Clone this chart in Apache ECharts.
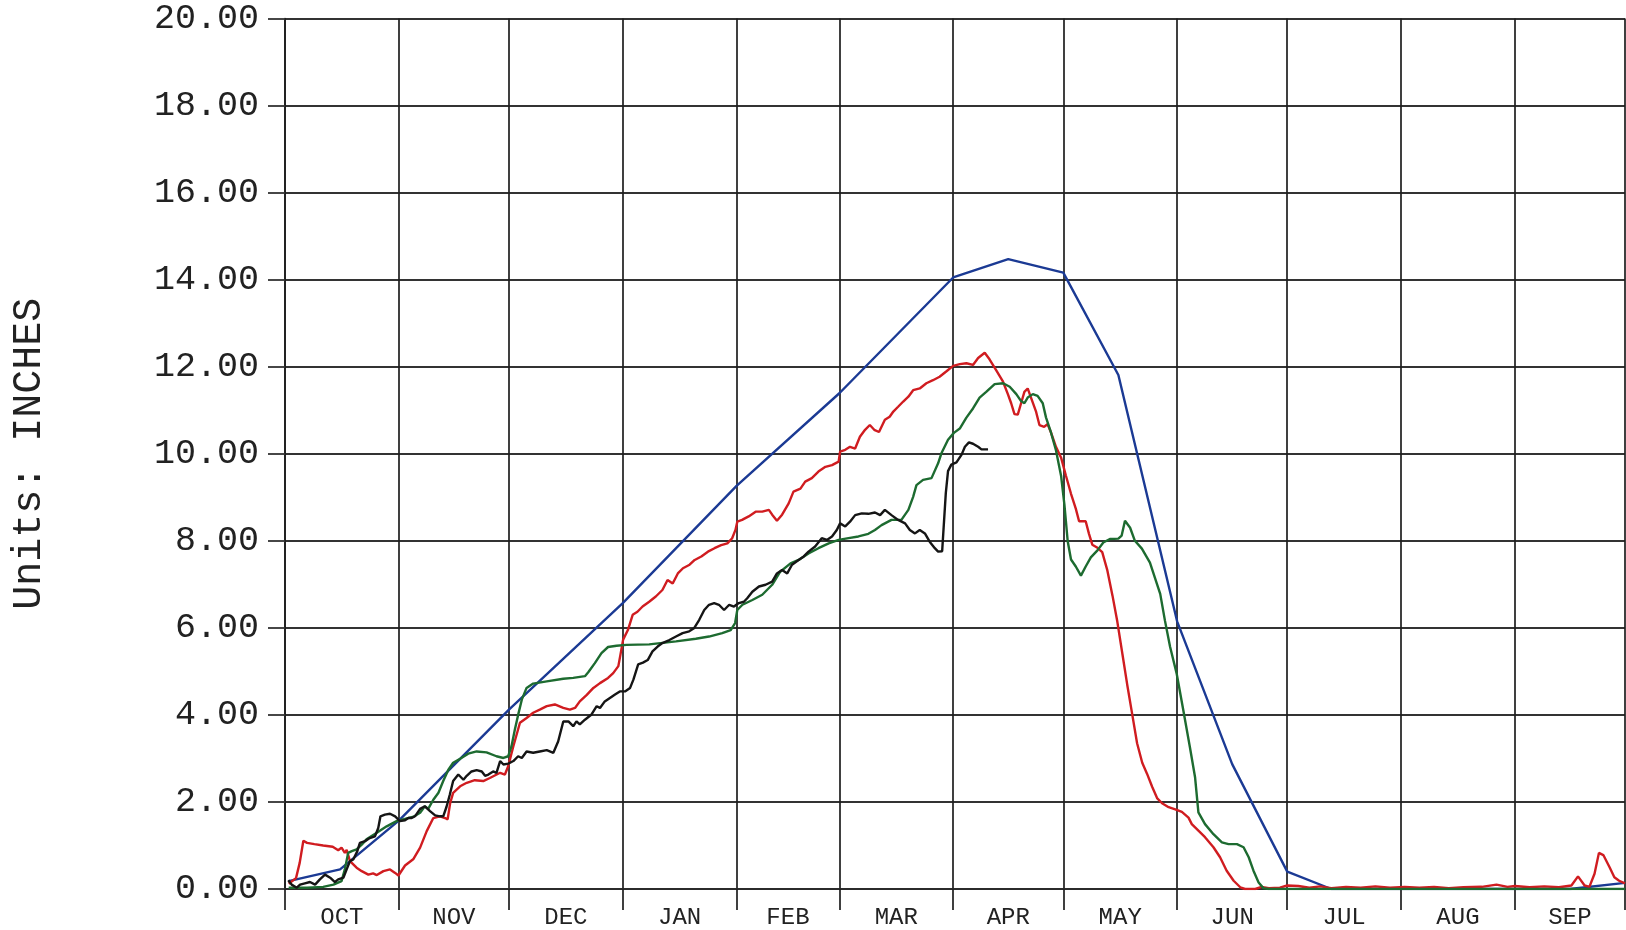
<!DOCTYPE html>
<html>
<head>
<meta charset="utf-8">
<script src="https://cdn.jsdelivr.net/npm/echarts@6/dist/echarts.min.js"></script>
<style>
  html, body { margin: 0; padding: 0; background: #ffffff; }
  #chart { width: 1626px; height: 930px; }
</style>
</head>
<body>
<div id="chart"></div>
<script>
// Water-year axis: day 0 = Oct 1, day 365 = end of Sep
const monthNames = ['OCT', 'NOV', 'DEC', 'JAN', 'FEB', 'MAR', 'APR', 'MAY', 'JUN', 'JUL', 'AUG', 'SEP'];
const monthStarts = [0, 31, 61, 92, 123, 151, 182, 212, 243, 273, 304, 335, 365];

// Y axis range (inches)
const yMin = 0;
const yMax = 20;
const yStep = 2;

// Median / normal accumulation [day, inches]
const normalSwe = [
  [1, 0.18], [15, 0.45], [31, 1.57], [61, 4.12], [92, 6.57], [123, 9.26], [151, 11.39],
  [182, 14.05], [197, 14.47], [212, 14.16], [227, 11.81], [243, 6.15], [258, 2.87],
  [273, 0.40], [285, 0], [350, 0], [365, 0.14]
];

// Earlier water year (red)
const yearRed = [
  [1, 0.12], [3, 0.25], [4, 0.6], [5, 1.11], [6, 1.06], [8, 1.03], [10.4, 1.0], [13, 0.97],
  [14.5, 0.89], [15.4, 0.95], [16.3, 0.83], [16.8, 0.9], [17.7, 0.64], [19.5, 0.49], [20.9, 0.41],
  [22.7, 0.33], [24, 0.36], [25, 0.32], [26.8, 0.41], [28.6, 0.45], [30, 0.37], [30.9, 0.31],
  [32.7, 0.54], [35, 0.69], [36.8, 0.95], [38.6, 1.33], [40.4, 1.63], [42.2, 1.67], [43.6, 1.63],
  [44.3, 1.6], [45, 1.98], [45.8, 2.21], [47.7, 2.36], [49.5, 2.44], [51.7, 2.5], [54, 2.48],
  [55.8, 2.55], [58.6, 2.67], [59.9, 2.63], [60.8, 2.82], [62.2, 3.28], [64, 3.82], [65.8, 3.93],
  [67.6, 4.05], [69.4, 4.12], [71.3, 4.2], [73.5, 4.24], [75.8, 4.16], [77.6, 4.12], [79, 4.16],
  [80.3, 4.31], [82.2, 4.46], [84, 4.62], [85.8, 4.73], [88, 4.85], [89.4, 4.96], [90.8, 5.12],
  [91.3, 5.35], [92.1, 5.73], [93.4, 5.95], [94.7, 6.3], [96, 6.37], [97.4, 6.49], [99.2, 6.6],
  [101, 6.72], [102.8, 6.87], [104.2, 7.1], [105.6, 7.02], [107, 7.25], [108.4, 7.37], [110.2, 7.45],
  [111.6, 7.56], [113.4, 7.64], [115.2, 7.75], [117, 7.83], [118.8, 7.9], [120.5, 7.94], [121.8, 8.06],
  [122.7, 8.25], [123.2, 8.44], [124.5, 8.48], [126.3, 8.56], [128.2, 8.67], [130, 8.67], [131.8, 8.71],
  [132.7, 8.6], [134, 8.46], [135.4, 8.6], [137.2, 8.86], [138.5, 9.13], [140.4, 9.2], [141.7, 9.36],
  [143.5, 9.44], [145.3, 9.59], [147.2, 9.7], [149, 9.74], [150.8, 9.82], [151.2, 10.05], [152.6, 10.09],
  [153.9, 10.16], [155.3, 10.12], [156.6, 10.39], [158, 10.55], [159.3, 10.66], [160.5, 10.55],
  [161.8, 10.5], [163.4, 10.78], [164.7, 10.85], [165.7, 10.97], [167, 11.08], [168.4, 11.2],
  [169.8, 11.31], [171.1, 11.46], [172.9, 11.5], [174.7, 11.62], [176.5, 11.69], [178.3, 11.77],
  [180.1, 11.89], [182, 12.02], [183.8, 12.06], [185.6, 12.08], [187.4, 12.04], [188.8, 12.2],
  [190.6, 12.32], [191.9, 12.17], [193.7, 11.92], [195.5, 11.67], [196.9, 11.37], [197.8, 11.16],
  [198.7, 10.91], [199.6, 10.9], [200.5, 11.16], [201.4, 11.42], [202.3, 11.5], [203.2, 11.29],
  [204.6, 10.96], [205.5, 10.66], [206.8, 10.62], [207.7, 10.68], [208.6, 10.5], [210, 10.16],
  [211.4, 9.91], [212.7, 9.5], [214.1, 9.08], [215.4, 8.74], [216.3, 8.45], [218.1, 8.45], [219, 8.16],
  [219.9, 7.91], [221.3, 7.84], [222.6, 7.74], [224, 7.32], [225.4, 6.74], [226.7, 6.15], [228.1, 5.4],
  [229.4, 4.7], [230.8, 4.0], [232.1, 3.35], [233.5, 2.9], [234.8, 2.65], [236.2, 2.35], [237.6, 2.08],
  [238.9, 1.97], [240.7, 1.88], [242.5, 1.83], [244.3, 1.77], [246.1, 1.64], [247, 1.49], [248.8, 1.34],
  [250.6, 1.19], [252.9, 0.96], [254.7, 0.73], [256.5, 0.42], [258.4, 0.19], [260.2, 0.04], [261.5, 0],
  [264.3, 0], [266, 0.05], [268, 0.02], [271, 0.03], [273, 0.08], [276, 0.07], [279, 0.03], [282, 0.06],
  [285, 0.02], [289, 0.05], [293, 0.03], [297, 0.06], [301, 0.03], [305, 0.05], [309, 0.03], [313, 0.05],
  [317, 0.02], [321, 0.04], [326, 0.05], [330, 0.1], [333, 0.05], [335, 0.07], [339, 0.04], [343, 0.06],
  [347, 0.04], [350.4, 0.08], [352.2, 0.29], [354, 0.08], [355.3, 0.05], [356.7, 0.35], [357.9, 0.83],
  [359.1, 0.78], [360.8, 0.5], [362.1, 0.27], [363.4, 0.19], [365, 0.13]
];

// Earlier water year (green)
const yearGreen = [
  [1, 0.03], [6, 0.03], [10.4, 0.05], [13.2, 0.1], [15.4, 0.18], [16.3, 0.45], [17.2, 0.83], [18.2, 0.87],
  [19.5, 0.91], [20.9, 1.02], [22.2, 1.14], [25, 1.29], [27.7, 1.44], [30.4, 1.56], [32.7, 1.61], [35, 1.66],
  [36.8, 1.75], [38.1, 1.9], [39, 1.84], [40.4, 2.05], [41.8, 2.21], [43.1, 2.48], [44.5, 2.74], [45.8, 2.9],
  [47.7, 2.99], [49.9, 3.11], [52.2, 3.16], [54.9, 3.14], [57.6, 3.05], [59.5, 3.01], [60.8, 3.05],
  [61.7, 3.28], [62.6, 3.66], [63.5, 4.0], [64.5, 4.35], [65.8, 4.62], [67.6, 4.72], [71.3, 4.77],
  [75.8, 4.83], [78.5, 4.85], [81.7, 4.89], [82.6, 4.98], [84.4, 5.19], [86.2, 5.42], [88, 5.56],
  [90.3, 5.59], [93, 5.61], [99.2, 5.62], [106.5, 5.69], [111.9, 5.75], [115.5, 5.8], [119.1, 5.88],
  [121.4, 5.95], [122.6, 6.11], [123.2, 6.41], [124.6, 6.53], [127.3, 6.64], [130, 6.76], [132.7, 6.99],
  [134.9, 7.29], [137.7, 7.48], [139.9, 7.56], [142.6, 7.71], [145.3, 7.83], [148.1, 7.94], [150.8, 8.02],
  [153.5, 8.06], [156.2, 8.1], [158.9, 8.16], [160.7, 8.25], [162.5, 8.36], [165.2, 8.48], [167.9, 8.48],
  [169.8, 8.71], [171.1, 9.01], [172, 9.28], [173.8, 9.4], [176.1, 9.44], [177.9, 9.78], [178.8, 10.01],
  [180.6, 10.32], [182.2, 10.48], [183.8, 10.58], [185.6, 10.83], [187.4, 11.04], [189.2, 11.29],
  [191, 11.42], [193.3, 11.6], [195.6, 11.62], [197.4, 11.54], [199.2, 11.37], [200.5, 11.21],
  [201.4, 11.16], [202.3, 11.29], [203.7, 11.37], [205, 11.33], [206.4, 11.16], [207.3, 10.83],
  [208.6, 10.5], [210, 10.08], [211.4, 9.49], [212.3, 8.83], [213.2, 7.99], [214.1, 7.57], [215.4, 7.41],
  [216.8, 7.2], [218.1, 7.41], [219.5, 7.62], [221.3, 7.78], [222.9, 7.96], [224.7, 8.04], [227, 8.05],
  [227.9, 8.12], [228.8, 8.46], [230.2, 8.3], [231.5, 8.0], [233.4, 7.82], [235.6, 7.5], [238.4, 6.78],
  [239.7, 6.16], [241.1, 5.56], [242.9, 4.94], [244.7, 4.1], [246.5, 3.25], [247.9, 2.56], [248.8, 1.76],
  [250.6, 1.49], [252.9, 1.26], [255.2, 1.07], [257, 1.03], [259.3, 1.03], [261.1, 0.96], [262.5, 0.73],
  [263.8, 0.42], [265.2, 0.15], [266.5, 0.02], [267.9, 0], [365, 0]
];

// Current water year to date (black)
const yearCurrent = [
  [0.9, 0.2], [1.8, 0.1], [3.2, 0.03], [4.1, 0.1], [5.4, 0.13], [6.8, 0.16], [8.2, 0.1], [9.5, 0.22],
  [10.9, 0.33], [12.3, 0.26], [13.6, 0.16], [14.5, 0.22], [15.9, 0.26], [16.8, 0.45], [17.7, 0.64],
  [18.6, 0.68], [19.7, 0.87], [20.4, 1.06], [21.8, 1.1], [23.1, 1.17], [24.5, 1.21], [25.4, 1.4],
  [26, 1.67], [27.2, 1.71], [28.6, 1.73], [30, 1.67], [31.3, 1.56], [32.7, 1.58], [33.6, 1.63],
  [34.5, 1.63], [35.4, 1.67], [36.8, 1.84], [38.1, 1.9], [39.5, 1.79], [40.9, 1.69], [42.2, 1.67],
  [43.1, 1.67], [44, 1.89], [44.9, 2.17], [45.8, 2.48], [47.2, 2.63], [48.6, 2.51], [49.5, 2.6],
  [50.8, 2.7], [52.2, 2.73], [53.6, 2.7], [54.5, 2.6], [55.4, 2.63], [56.7, 2.7], [57.6, 2.67],
  [58.6, 2.94], [59.5, 2.86], [60.8, 2.88], [62.2, 2.94], [63.5, 3.05], [64.5, 3.01], [65.8, 3.16],
  [67.6, 3.13], [69.4, 3.16], [71.3, 3.19], [73.1, 3.13], [74.4, 3.39], [75.8, 3.85], [77.2, 3.85],
  [78.5, 3.74], [79.4, 3.85], [80.3, 3.78], [81.7, 3.89], [83.5, 4.01], [84.9, 4.2], [85.8, 4.16],
  [87.1, 4.31], [88.5, 4.39], [89.9, 4.47], [91.2, 4.54], [92.6, 4.54], [94, 4.62], [94.9, 4.81],
  [96.2, 5.16], [97.5, 5.2], [98.8, 5.26], [100.1, 5.46], [101.5, 5.57], [102.8, 5.65], [104.7, 5.72],
  [106.5, 5.8], [108.3, 5.88], [110.1, 5.92], [111.4, 5.99], [112.8, 6.18], [114.2, 6.41], [115.5, 6.53],
  [116.9, 6.57], [118.2, 6.53], [119.6, 6.41], [121, 6.53], [122.3, 6.49], [123.6, 6.57], [125, 6.6],
  [125.9, 6.68], [127.3, 6.83], [129.1, 6.95], [130.9, 6.99], [132.7, 7.06], [134, 7.25], [135.4, 7.33],
  [136.8, 7.25], [138.1, 7.45], [139.9, 7.56], [141.3, 7.64], [142.6, 7.75], [144.4, 7.87], [146.2, 8.06],
  [147.6, 8.02], [149, 8.1], [150.3, 8.25], [151.2, 8.4], [152.6, 8.33], [153.9, 8.44], [155.3, 8.59],
  [157.1, 8.63], [158.9, 8.62], [160.7, 8.65], [162.1, 8.59], [163.4, 8.71], [165.2, 8.59], [167, 8.48],
  [168.9, 8.4], [170.2, 8.25], [171.6, 8.17], [172.9, 8.25], [174.3, 8.17], [175.6, 7.98], [177, 7.83],
  [177.9, 7.75], [179, 7.76], [179.4, 8.3], [180, 9.1], [180.6, 9.6], [181.5, 9.75], [182.9, 9.8],
  [184.3, 9.98], [185.2, 10.16], [186.3, 10.26], [187.4, 10.23], [188.8, 10.16], [189.7, 10.1], [191.5, 10.1]
];

// Month label positions sit in the middle of each month
const monthMids = monthNames.map((_, i) => (monthStarts[i] + monthStarts[i + 1]) / 2);

const FONT = "'Liberation Mono', 'Courier New', monospace";
const chart = echarts.init(document.getElementById('chart'), null, { renderer: 'canvas' });

function lineSeries(name, data, color, z) {
  return {
    name: name,
    type: 'line',
    data: data,
    showSymbol: false,
    symbol: 'none',
    smooth: false,
    z: z,
    lineStyle: { color: color, width: 2.4 },
    emphasis: { disabled: true }
  };
}

chart.setOption({
  animation: false,
  backgroundColor: '#ffffff',
  grid: { left: 285, right: 1, top: 18.5, bottom: 40.5, containLabel: false },
  xAxis: {
    type: 'value',
    min: monthStarts[0],
    max: monthStarts[monthStarts.length - 1],
    axisLine: { show: true, lineStyle: { color: '#2a2a2a', width: 1.7 } },
    axisTick: {
      show: true,
      customValues: monthStarts,
      length: 21,
      lineStyle: { color: '#1e1e1e', width: 1.7 }
    },
    splitLine: { show: true, lineStyle: { color: '#1e1e1e', width: 1.7 } },
    axisLabel: {
      customValues: monthMids,
      formatter: function (v) {
        const i = monthMids.indexOf(v);
        return i >= 0 ? monthNames[i] : '';
      },
      margin: 17,
      fontFamily: FONT,
      fontSize: 24,
      color: '#222222'
    }
  },
  yAxis: {
    type: 'value',
    min: yMin,
    max: yMax,
    interval: yStep,
    name: 'Units: INCHES',
    nameLocation: 'middle',
    nameGap: 236,
    nameTextStyle: { fontFamily: FONT, fontSize: 40, color: '#222222' },
    axisLine: { show: true, lineStyle: { color: '#1e1e1e', width: 1.7 } },
    axisTick: { show: true, length: 17, lineStyle: { color: '#333333', width: 1.8 } },
    splitLine: { show: true, lineStyle: { color: '#333333', width: 1.8 } },
    axisLabel: {
      formatter: function (v) { return v.toFixed(2); },
      margin: 26,
      fontFamily: FONT,
      fontSize: 35,
      color: '#222222'
    }
  },
  series: [
    lineSeries('Normal', normalSwe, '#1b3a94', 4),
    lineSeries('Year A', yearRed, '#d01c20', 5),
    lineSeries('Year B', yearGreen, '#1d6b30', 6),
    lineSeries('Current', yearCurrent, '#151515', 7)
  ]
});
</script>
</body>
</html>
